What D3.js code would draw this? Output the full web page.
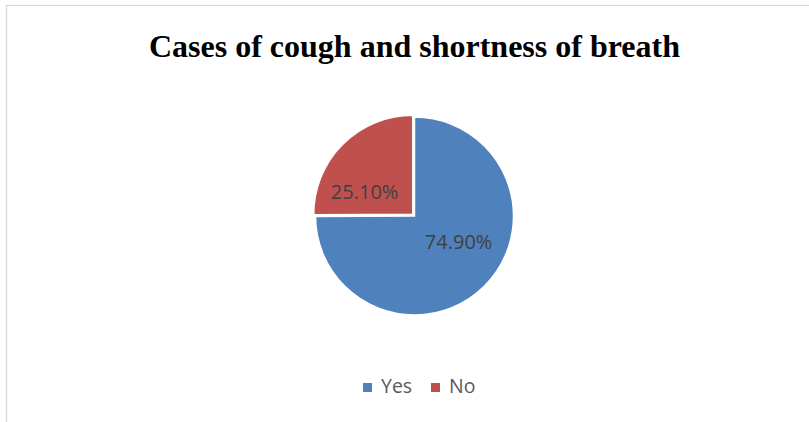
<!DOCTYPE html>
<html>
<head>
<meta charset="utf-8">
<script src="https://cdn.jsdelivr.net/npm/d3@7"></script>
<style>
  body { margin: 0; background: #fff; }
  svg { display: block; }
</style>
</head>
<body>
<div id="chart"></div>
<script>
// chart data
var categories = ['Yes', 'No'];
var values = [74.9, 25.1];
var labels = ['74.90%', '25.10%'];
var colors = ['#4f81bd', '#c0504d'];

var width = 809, height = 422;
var cx = 414.5, cy = 216, radius = 99;

var svg = d3.select('#chart').append('svg')
  .attr('width', width)
  .attr('height', height);

// chart area border (runs off the right and bottom edges)
svg.append('rect')
  .attr('x', 6.5)
  .attr('y', 5.5)
  .attr('width', width + 20)
  .attr('height', height + 20)
  .attr('fill', '#fff')
  .attr('stroke', '#d9d9d9')
  .attr('stroke-width', 1.3);

svg.append('text')
  .attr('x', cx)
  .attr('y', 57)
  .attr('text-anchor', 'middle')
  .style('font-family', '"Liberation Serif", "Times New Roman", serif')
  .style('font-weight', 'bold')
  .style('font-size', '32px')
  .attr('fill', '#000')
  .text('Cases of cough and shortness of breath');

var pie = d3.pie().sort(null).value(function(d) { return d; });
var arc = d3.arc().innerRadius(0).outerRadius(radius);
var arcs = pie(values);

var g = svg.append('g')
  .attr('transform', 'translate(' + cx + ',' + cy + ')');

// the small slice is pulled out a little, like the original
var explode = [0, 2.5];
// Excel "best fit" nudges the labels sideways from the bisector
var labelShift = [[9, -9], [-13, 13]];

var slice = g.selectAll('.slice')
  .data(arcs)
  .enter().append('g')
  .attr('class', 'slice')
  .attr('transform', function(d, i) {
    var a = (d.startAngle + d.endAngle) / 2;
    return 'translate(' + (Math.sin(a) * explode[i]) + ',' + (-Math.cos(a) * explode[i]) + ')';
  });

slice.append('path')
  .attr('d', arc)
  .attr('fill', function(d, i) { return colors[i]; })
  .attr('stroke', '#fff')
  .attr('stroke-width', 1.5);

var labelArc = d3.arc().innerRadius(radius).outerRadius(0);

slice.append('text')
  .attr('transform', function(d, i) {
    var c = labelArc.centroid(d);
    return 'translate(' + (c[0] + labelShift[i][0]) + ',' + (c[1] + labelShift[i][1]) + ')';
  })
  .attr('dy', '0.35em')
  .attr('text-anchor', 'middle')
  .style('font-family', '"Open Sans", "Noto Sans", sans-serif')
  .style('font-size', '20px')
  .attr('fill', '#404040')
  .text(function(d, i) { return labels[i]; });

// legend
var legendX = [363, 431];
var legend = svg.selectAll('.legend')
  .data(categories)
  .enter().append('g')
  .attr('class', 'legend')
  .attr('transform', function(d, i) { return 'translate(' + legendX[i] + ',383)'; });

legend.append('rect')
  .attr('width', 9)
  .attr('height', 9)
  .attr('fill', function(d, i) { return colors[i]; });

legend.append('text')
  .attr('x', 18)
  .attr('y', 10)
  .style('font-family', '"Open Sans", "Noto Sans", sans-serif')
  .style('font-size', '19.5px')
  .attr('fill', '#595959')
  .text(function(d) { return d; });
</script>
</body>
</html>
